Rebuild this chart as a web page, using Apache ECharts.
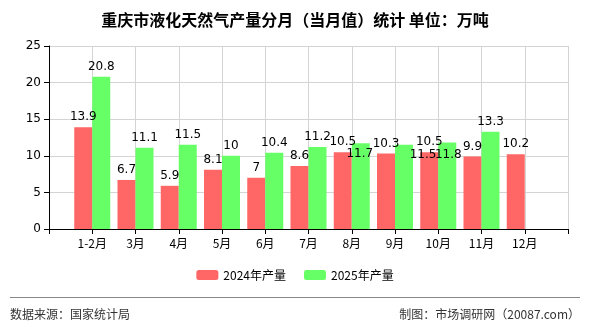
<!DOCTYPE html>
<html>
<head>
<meta charset="utf-8">
<script src="https://cdn.jsdelivr.net/npm/echarts@6/dist/echarts.min.js"></script>
<style>
  html, body { margin: 0; padding: 0; background: #fff; }
  #chart { width: 590px; height: 330px; }
</style>
</head>
<body>
<div id="chart"></div>
<script>
// 月份与产量（万吨）
const months = ['1-2月', '3月', '4月', '5月', '6月', '7月', '8月', '9月', '10月', '11月', '12月']
const output2024 = [13.9, 6.7, 5.9, 8.1, 7, 8.6, 10.5, 10.3, 10.5, 9.9, 10.2]
const output2025 = [20.8, 11.1, 11.5, 10, 10.4, 11.2, 11.7, 11.5, 11.8, 13.3, null]
const yTicks = [0, 5, 10, 15, 20, 25]

const chart = echarts.init(document.getElementById('chart'))

// 两端留空，让标签落在刻度上
const axisData = [''].concat(months, [''])
const pad = (arr) => ['-'].concat(arr.map((v) => (v == null ? '-' : v)), ['-'])

// 被挤开的标签偏移（原图中重叠避让），按 dataIndex
const moved2025 = { 7: [-1, 21], 8: [19, 20], 9: [1, 22] }

const labelStyle = {
  show: true,
  position: 'top',
  distance: 4,
  color: '#000',
  fontSize: 12,
  fontFamily: 'DejaVu Sans'
}

const option = {
  animation: false,
  title: {
    text: '重庆市液化天然气产量分月（当月值）统计 单位：万吨',
    left: 'center',
    top: 7,
    textStyle: { fontSize: 16, fontWeight: 'bold', color: '#000', fontFamily: 'Noto Sans CJK SC' }
  },
  legend: {
    bottom: 44,
    left: 'center',
    itemWidth: 22,
    itemHeight: 10,
    itemGap: 18,
    textStyle: { fontSize: 12, color: '#000', fontFamily: 'Noto Sans CJK SC' },
    data: ['2024年产量', '2025年产量']
  },
  grid: { left: 49, right: 22, top: 46, bottom: 101, containLabel: false },
  xAxis: {
    type: 'category',
    boundaryGap: false,
    data: axisData,
    axisLine: { lineStyle: { color: '#000' } },
    axisTick: { show: true, alignWithLabel: true, length: 5, lineStyle: { color: '#000' } },
    axisLabel: { color: '#000', fontSize: 12, margin: 8, interval: 0, fontFamily: 'Noto Sans CJK SC' },
    splitLine: { show: true, lineStyle: { color: '#d4d4d4' } }
  },
  yAxis: {
    type: 'value',
    min: yTicks[0],
    max: yTicks[yTicks.length - 1],
    interval: 5,
    axisLine: { show: true, lineStyle: { color: '#000' } },
    axisTick: { show: true, length: 5, lineStyle: { color: '#000' } },
    axisLabel: { color: '#000', fontSize: 12, margin: 8, fontFamily: 'DejaVu Sans' },
    splitLine: { show: true, lineStyle: { color: '#d4d4d4' } }
  },
  series: [
    {
      name: '2024年产量',
      type: 'bar',
      data: pad(output2024),
      barWidth: 18,
      barGap: '0%',
      itemStyle: { color: '#ff6666' },
      label: labelStyle
    },
    {
      name: '2025年产量',
      type: 'bar',
      data: pad(output2025),
      barWidth: 18,
      barGap: '0%',
      itemStyle: { color: '#66ff66' },
      label: labelStyle,
      labelLayout: function (params) {
        const off = moved2025[params.dataIndex]
        if (!off) return {}
        return { dx: off[0], dy: off[1] }
      }
    }
  ],
  graphic: [
    {
      type: 'line',
      shape: { x1: 10, y1: 297.5, x2: 580, y2: 297.5 },
      style: { stroke: '#888', lineWidth: 1 }
    },
    {
      type: 'text',
      left: 10,
      top: 308,
      style: { text: '数据来源：国家统计局', fill: '#333', fontSize: 12, fontFamily: 'Noto Sans CJK SC' }
    },
    {
      type: 'text',
      right: 10,
      top: 308,
      style: { text: '制图：市场调研网（20087.com）', fill: '#333', fontSize: 12, fontFamily: 'Noto Sans CJK SC' }
    }
  ]
}

chart.setOption(option)
</script>
</body>
</html>
